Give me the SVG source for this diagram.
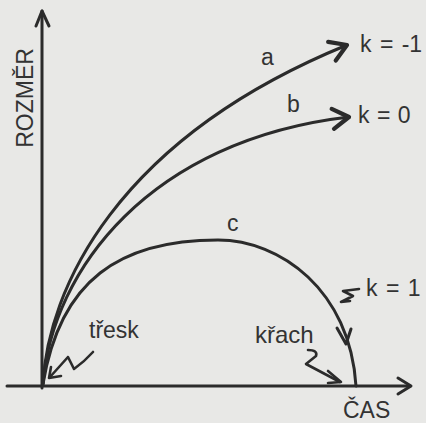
<svg xmlns="http://www.w3.org/2000/svg" width="426" height="423" viewBox="0 0 426 423">
<defs>
<style>
.ln{fill:none;stroke:#2b2b2b;stroke-width:3;stroke-linecap:round;stroke-linejoin:round}
.sq{fill:none;stroke:#2b2b2b;stroke-width:2.6;stroke-linecap:round;stroke-linejoin:round}
.tx{font-family:"Liberation Sans",Arial,sans-serif;fill:#333333}
</style>
<marker id="head" markerUnits="userSpaceOnUse" markerWidth="30" markerHeight="30" viewBox="-16 -12 20 24" refX="0" refY="0" orient="auto">
<path d="M-13,-8 L0,0 L-13,8" fill="none" stroke="#2b2b2b" stroke-width="3.4" stroke-linecap="round" stroke-linejoin="round"/>
</marker>
</defs>
<rect width="426" height="423" fill="#e8e8e6"/>
<g id="axes">
<path class="ln" d="M42,388 L42,11"/>
<path class="ln" d="M36,26 L42,11 L49,26"/>
<path class="ln" d="M7,386 L410,386"/>
<path class="ln" d="M398,378 L411,386 L398,394"/>
<text class="tx" font-size="23" transform="translate(33,98) rotate(-90)" text-anchor="middle">ROZMĚR</text>
<text class="tx" font-size="23" x="343" y="418">ČAS</text>
</g>
<g id="connectors">
<path id="curve-a" class="ln" d="M43,384 C48,290 115,140 347,45" marker-end="url(#head)"/>
<path id="curve-b" class="ln" d="M43,384 C52,270 150,140 349,117" marker-end="url(#head)"/>
<path id="curve-c" class="ln" d="M43,384 C60,280 120,240 218,240 C280,240 350,290 356,386"/>
<path class="ln" d="M337,328 L346,344 L351,329"/>
</g>
<g id="labels">
<text class="tx" font-size="23" x="261" y="65">a</text>
<text class="tx" font-size="23" x="287" y="112">b</text>
<text class="tx" font-size="23" x="227" y="231">c</text>
<text class="tx" font-size="23" x="360" y="52" word-spacing="2">k = -1</text>
<text class="tx" font-size="23" x="358" y="123" word-spacing="1">k = 0</text>
<text class="tx" font-size="23" x="366" y="296" word-spacing="2">k = 1</text>
</g>
<g id="tresk">
<text class="tx" font-size="23" x="89" y="338">třesk</text>
<path class="sq" d="M93,352 Q84,362 74,369 L68,357 L50,377"/>
<path class="sq" d="M51,367 L49,378 L61,376"/>
</g>
<g id="krach">
<text class="tx" font-size="24" x="255" y="343">křach</text>
<path class="sq" d="M308,350 Q318,350 316,356 L306,364 L340,382"/>
<path class="sq" d="M328,371 L341,382 L328,383"/>
</g>
<g id="k1-mark">
<path class="sq" d="M359,289 L343,291 L353,296 L341,302 L350,301"/>
</g>
</svg>
